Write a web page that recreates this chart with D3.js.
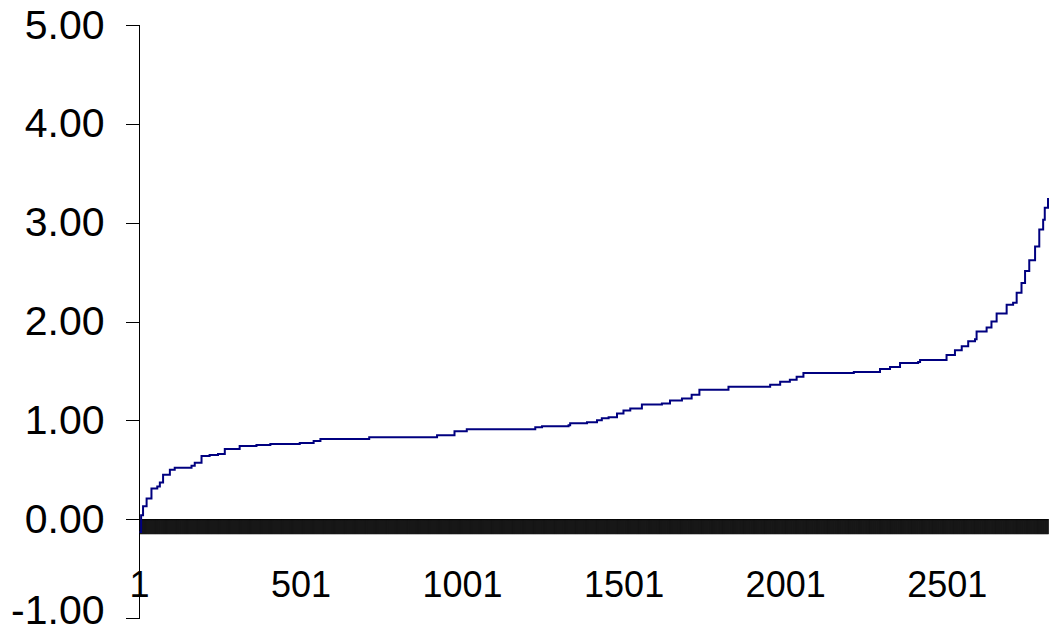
<!DOCTYPE html>
<html>
<head>
<meta charset="utf-8">
<script src="https://cdn.jsdelivr.net/npm/d3@7"></script>
<style>
    body { margin: 0; background: #fff; }
    svg { display: block; }
    .axis text { font-family: "Liberation Sans", Arial, sans-serif; fill: #000; }
</style>
</head>
<body>
<div id="chart"></div>
<script>
// number of ranked items on the category axis
let itemCount = 2813;

// rank (category index) where the sorted score takes a new level
let rankIdx = [1, 6, 12, 23, 38, 56, 64, 74, 95, 110, 131, 162, 172, 193, 218, 244, 265, 311,
    363, 406, 497, 540, 561, 712, 922, 976, 1014, 1226, 1247, 1329, 1334, 1386, 1417, 1432, 1453,
    1479, 1499, 1520, 1556, 1618, 1643, 1680, 1710, 1734, 1824, 1953, 1984, 2014, 2035, 2056,
    2212, 2293, 2324, 2355, 2411, 2417, 2499, 2525, 2546, 2566, 2587, 2592, 2623, 2638, 2654,
    2685, 2705, 2716, 2731, 2742, 2755, 2773, 2786, 2798, 2803, 2813];

// score value at each of those ranks
let scoreVal = [-0.13, 0.04, 0.13, 0.21, 0.31, 0.33, 0.37, 0.45, 0.50, 0.52, 0.52, 0.54, 0.57,
    0.64, 0.65, 0.66, 0.71, 0.74, 0.75, 0.76, 0.77, 0.79, 0.81, 0.83, 0.85, 0.89, 0.91, 0.93,
    0.94, 0.95, 0.97, 0.98, 1.00, 1.02, 1.03, 1.07, 1.10, 1.12, 1.16, 1.17, 1.20, 1.22, 1.26,
    1.31, 1.34, 1.36, 1.39, 1.41, 1.44, 1.48, 1.49, 1.52, 1.54, 1.58, 1.59, 1.61, 1.66, 1.71,
    1.75, 1.80, 1.82, 1.90, 1.94, 2.00, 2.08, 2.17, 2.19, 2.29, 2.39, 2.51, 2.62, 2.76, 2.93,
    3.03, 3.15, 3.25];

// axis tick values
let yTicks = [-1, 0, 1, 2, 3, 4, 5];
let xTickLabels = [1, 501, 1001, 1501, 2001, 2501];

let width = 1049, height = 635;
let xFontSize = 36, yFontSize = 41;

let svg = d3.select("#chart").append("svg")
    .attr("width", width)
    .attr("height", height);

// scales
let x = d3.scaleLinear()
    .domain([1, itemCount])
    .range([139.5, 1048]);

let y = d3.scaleLinear()
    .domain([-1, 5])
    .range([618, 25]);

// y axis, ticks outside to the left
let yAxis = d3.axisLeft(y)
    .tickValues(yTicks)
    .tickSize(14)
    .tickPadding(21)
    .tickFormat(d => d.toFixed(2));

let yg = svg.append("g")
    .attr("class", "axis")
    .attr("transform", "translate(" + x(1) + ",0)")
    .call(yAxis);
yg.selectAll("text").style("font-size", yFontSize + "px");
yg.selectAll("line, path").attr("stroke", "#000").attr("shape-rendering", "crispEdges");
yg.select(".domain").attr("d", "M-14," + y(5) + "H0V" + y(-1) + "H-14");
// bottom label is pushed up so it stays inside the picture
yg.selectAll(".tick text").filter(d => d === -1).attr("y", -8);

// x axis at value 0 : one tick per category, labels every 500
let xAxis = d3.axisBottom(x)
    .tickValues(d3.range(1, itemCount + 1))
    .tickSize(15)
    .tickSizeOuter(0)
    .tickFormat("");

let xg = svg.append("g")
    .attr("class", "axis")
    .attr("transform", "translate(0," + y(0) + ")")
    .call(xAxis);
xg.selectAll("line").attr("stroke", "#000").attr("stroke-width", 0.6);
xg.select(".domain").attr("stroke", "#000");

svg.append("g")
    .attr("class", "axis")
    .selectAll("text")
    .data(xTickLabels)
    .enter()
    .append("text")
    .attr("x", d => x(d))
    .attr("y", 597)
    .attr("text-anchor", "middle")
    .style("font-size", xFontSize + "px")
    .text(d => d);

// the ranked score line
let pts = rankIdx.map((r, i) => [r, scoreVal[i]]);
let line = d3.line()
    .x(d => x(d[0]))
    .y(d => y(d[1]))
    .curve(d3.curveStepAfter);

svg.append("path")
    .datum(pts)
    .attr("d", line)
    .attr("fill", "none")
    .attr("stroke", "#000080")
    .attr("stroke-width", 2);
</script>
</body>
</html>
